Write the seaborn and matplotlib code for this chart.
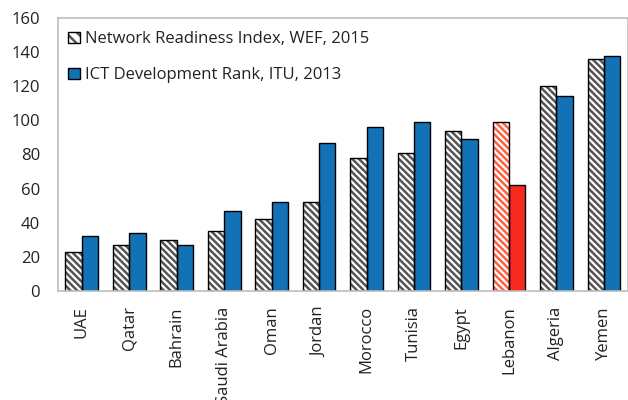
import matplotlib
matplotlib.use("Agg")
import matplotlib.pyplot as plt
from matplotlib.patches import Patch, Rectangle
import seaborn as sns
import pandas as pd

countries = ["UAE", "Qatar", "Bahrain", "Saudi Arabia", "Oman", "Jordan",
             "Morocco", "Tunisia", "Egypt", "Lebanon", "Algeria", "Yemen"]
nri_2015 = [23, 27, 30, 35, 42, 52, 78, 81, 94, 99, 120, 136]
ict_2013 = [32, 34, 27, 47, 52, 87, 96, 99, 89, 62, 114, 138]
series_names = ["Network Readiness Index, WEF, 2015", "ICT Development Rank, ITU, 2013"]
highlight = "Lebanon"

BLUE = "#1372b6"
RED = "#f62a1f"
HATCH_GRAY = "#555555"
HATCH_RED = "#ff6040"
SPINE = "#bdbdbd"
HATCH = "\\" * 5

sns.set_style("white")
plt.rcParams["font.family"] = ["Open Sans", "DejaVu Sans"]
plt.rcParams["hatch.linewidth"] = 1.8

df = pd.DataFrame({
    "country": countries * 2,
    "value": nri_2015 + ict_2013,
    "series": [series_names[0]] * len(countries) + [series_names[1]] * len(countries),
})

fig = plt.figure(figsize=(6.28, 4.0), dpi=100)
ax = fig.add_axes([0.0924, 0.2725, 0.907, 0.6825])

sns.barplot(data=df, x="country", y="value", hue="series", order=countries,
            hue_order=series_names, palette=["white", BLUE], width=0.69,
            gap=0, saturation=1, edgecolor="black", linewidth=1.0,
            legend=False, ax=ax)

n = len(countries)
bars = ax.patches[:2 * n]
for i, p in enumerate(bars):
    country = countries[i % n]
    is_hl = country == highlight
    if i < n:
        # hatched series: hatch in its own colour, black outline drawn on top
        p.set_facecolor("white")
        p.set_edgecolor(HATCH_RED if is_hl else HATCH_GRAY)
        p.set_hatch(HATCH)
        p.set_linewidth(0)
        ax.add_patch(Rectangle((p.get_x(), p.get_y()), p.get_width(), p.get_height(),
                               fill=False, edgecolor="black", linewidth=1.0,
                               zorder=p.get_zorder() + 0.1))
    elif is_hl:
        p.set_facecolor(RED)

ax.set_ylim(0, 160)
ax.set_xlim(-0.5, n - 0.5)
ax.set_yticks(range(0, 161, 20))
ax.set_xlabel("")
ax.set_ylabel("")

for side in ["left", "bottom", "top", "right"]:
    ax.spines[side].set_color(SPINE)
    ax.spines[side].set_linewidth(1.2)

ax.tick_params(axis="y", which="major", direction="out", length=5, width=1,
               color=SPINE, labelsize=12, pad=8, labelcolor="#222222")
ax.tick_params(axis="x", which="major", length=0, pad=11, labelsize=12,
               labelcolor="#222222", labelrotation=90)
ax.set_xticks([i + 0.5 for i in range(n - 1)], minor=True)
ax.tick_params(axis="x", which="minor", direction="in", length=5, width=1, color=SPINE)
for lbl in ax.get_xticklabels():
    lbl.set_verticalalignment("top")

hatch_handle = (
    Patch(facecolor="white", edgecolor=HATCH_GRAY, hatch="\\\\\\", linewidth=0),
    Patch(facecolor="none", edgecolor="black", linewidth=1.0),
)
blue_handle = Patch(facecolor=BLUE, edgecolor="black", linewidth=1.0)
leg = ax.legend([hatch_handle, blue_handle], series_names, loc="upper left",
                frameon=False, fontsize=12, handlelength=0.7, handleheight=0.7,
                handletextpad=0.3, labelspacing=1.2, borderaxespad=0.0,
                bbox_to_anchor=(0.006, 0.975))
for t in leg.get_texts():
    t.set_color("#222222")

fig.savefig("out.png", dpi=100)
